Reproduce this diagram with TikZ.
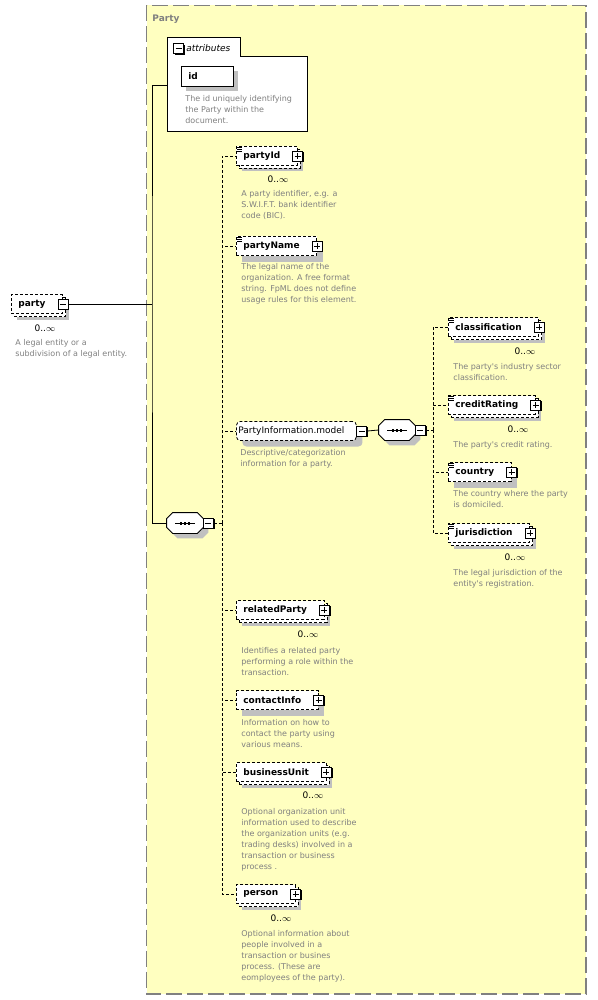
\documentclass[tikz,border=0pt]{standalone}
\usepackage{fontspec}
\setmainfont{DejaVu Sans}
\usetikzlibrary{shadows}
\definecolor{partybg}{RGB}{255,255,192}
\definecolor{shadowgray}{RGB}{192,192,192}
\definecolor{doctext}{RGB}{128,128,128}
\tikzstyle{elem}=[rectangle, draw, dash pattern=on 3pt off 2pt, fill=white, font=\bfseries\fontsize{9}{11}\selectfont, minimum height=19pt, inner xsep=7pt, inner ysep=0pt, anchor=west, execute at end node={\hspace{10pt}}, drop shadow={shadow xshift=6pt, shadow yshift=-6pt, fill=shadowgray, draw=none, opacity=1}]
\tikzstyle{multi}=[copy shadow={shadow xshift=3pt, shadow yshift=-3pt}]
\tikzstyle{simp}=[path picture={\foreach \k in {1,3,5} \draw[solid, line width=0.6pt] ([xshift=1pt, yshift=-\k pt]path picture bounding box.north west) -- ++(5pt,0);}]
\tikzstyle{grp}=[elem, rounded corners=4pt, font=\fontsize{9}{11}\selectfont, inner xsep=2pt, execute at end node={}]
\tikzstyle{icon}=[rectangle, draw, solid, fill=white, minimum size=10pt, inner sep=0pt, line width=0.8pt, drop shadow={shadow xshift=1.2pt, shadow yshift=-1.2pt, fill=black, opacity=1}]
\tikzstyle{minus}=[icon, path picture={\draw[line width=0.8pt] ([xshift=2pt]path picture bounding box.west) -- ([xshift=-2pt]path picture bounding box.east);}]
\tikzstyle{plus}=[icon, path picture={\draw[line width=0.8pt] ([xshift=2pt]path picture bounding box.west) -- ([xshift=-2pt]path picture bounding box.east); \draw[line width=0.8pt] ([yshift=-2pt]path picture bounding box.north) -- ([yshift=2pt]path picture bounding box.south);}]
\tikzstyle{seq}=[rectangle, minimum width=36pt, minimum height=20pt, inner sep=0pt]
\tikzstyle{seqline}=[draw, solid, fill=white, drop shadow={shadow xshift=5pt, shadow yshift=-5pt, fill=shadowgray, draw=none, opacity=1}]
\tikzstyle{idbox}=[rectangle, draw, solid, fill=white, anchor=west, font=\bfseries\fontsize{9}{11}\selectfont, minimum height=20pt, text width=38pt, inner xsep=7pt, inner ysep=0pt, drop shadow={shadow xshift=5pt, shadow yshift=-5pt, fill=shadowgray, draw=none, opacity=1}]
\tikzstyle{doc}=[anchor=north west, align=left, inner sep=0pt, text=doctext, font=\fontsize{8}{11}\selectfont]
\tikzstyle{mult}=[inner sep=0pt, font=\fontsize{9}{11}\selectfont]
\tikzstyle{conn}=[dash pattern=on 3pt off 2pt]

\begin{document}
\begin{tikzpicture}[x=1pt, y=-1pt, thick]
\useasboundingbox (0,0) rectangle (597,1000);

% complex type box
\draw[fill=partybg, draw=gray, dash pattern=on 16pt off 5pt, line width=1.2pt] (146.5,5.5) rectangle (586,994);
\node[anchor=west, inner sep=0pt, text=doctext, font=\bfseries\fontsize{9}{11}\selectfont] (ptitle) at (152,19) {Party};

% attributes
\draw[solid, fill=white, line width=1pt] (167,132) -- (167,38) -- (240,38) -- (240,57) -- (307,57) -- (307,132) -- cycle;
\node[minus] (attrm) at (178.5,48.5) {};
\node[anchor=west, inner sep=0pt, font=\itshape\fontsize{9}{11}\selectfont] (attrlbl) at (186,48) {attributes};
\node[idbox] (idn) at (181,76) {id};
\node[doc] (iddoc) at (185,93.5) {\strut The id uniquely identifying\\the Party within the\\document.};

% root element
\node[elem, multi] (pty) at (11,304) {party};
\node[minus] (ptym) at (pty.east) {};
\node[mult] (ptymult) at (45,328) {0..\(\infty\)};
\node[doc] (ptydoc) at (15,337.5) {\strut A legal entity or a\\subdivision of a legal entity.};

\coordinate (trunk) at (152,304);
\coordinate (attrin) at (167,85);

% sequences
\node[seq] (seq1) at (185,523) {};
\node[seq] (seq2) at (397,430) {};
\foreach \s in {seq1,seq2} {
  \draw[seqline] ([xshift=6pt]\s.north west) -- ([xshift=-6pt]\s.north east) -- ([yshift=-6pt]\s.north east)
    -- ([yshift=6pt]\s.south east) -- ([xshift=-6pt]\s.south east) -- ([xshift=6pt]\s.south west)
    -- ([yshift=6pt]\s.south west) -- ([yshift=-6pt]\s.north west) -- cycle;
  \draw[solid, line width=1pt] ([xshift=-10pt]\s.center) -- ([xshift=10pt]\s.center);
  \foreach \d in {-4,0,4}
    \fill ([shift={(\d pt-1.2pt,-1.5pt)}]\s.center) rectangle ++(2.4pt,3pt);
}
\node[minus] (s1m) at ([xshift=5pt]seq1.east) {};
\node[minus] (s2m) at ([xshift=5pt]seq2.east) {};

\draw (ptym.east) -- (trunk);
\draw (attrin) -| (trunk) |- (seq1.west);

% children
\node[elem, multi, simp] (pid) at (236,156) {partyId};
\node[plus] (pidp) at (pid.east) {};
\node[mult] (pidmult) at (278,179) {0..\(\infty\)};
\node[doc] (piddoc) at (241,188.5) {\strut A party identifier, e.g. a\\S.W.I.F.T. bank identifier\\code (BIC).};

\node[elem, simp] (pnm) at (236,246) {partyName};
\node[plus] (pnmp) at (pnm.east) {};
\node[doc] (pnmdoc) at (241,261.5) {\strut The legal name of the\\organization. A free format\\string. FpML does not define\\usage rules for this element.};

\node[grp] (pim) at (236,431) {PartyInformation.model};
\node[minus] (pimm) at ([xshift=5pt]pim.east) {};
\node[doc] (pimdoc) at (240,447.5) {\strut Descriptive/categorization\\information for a party.};
\draw (pimm.east) -- (seq2.west);

\node[elem, multi, simp] (cls) at (448,327) {classification};
\node[plus] (clsp) at (cls.east) {};
\node[mult] (clsmult) at (525,351) {0..\(\infty\)};
\node[doc] (clsdoc) at (453,361.5) {\strut The party\textquotesingle s industry sector\\classification.};

\node[elem, multi, simp] (cr) at (448,405) {creditRating};
\node[plus] (crp) at (cr.east) {};
\node[mult] (crmult) at (518,429) {0..\(\infty\)};
\node[doc] (crdoc) at (453,439.5) {\strut The party\textquotesingle s credit rating.};

\node[elem, simp] (cty) at (448,472) {country};
\node[plus] (ctyp) at (cty.east) {};
\node[doc] (ctydoc) at (453,488.5) {\strut The country where the party\\is domiciled.};

\node[elem, multi, simp] (jur) at (448,533) {jurisdiction};
\node[plus] (jurp) at (jur.east) {};
\node[mult] (jurmult) at (515,557) {0..\(\infty\)};
\node[doc] (jurdoc) at (453,567.5) {\strut The legal jurisdiction of the\\entity\textquotesingle s registration.};

\node[elem, multi] (rp) at (236,610) {relatedParty};
\node[plus] (rpp) at (rp.east) {};
\node[mult] (rpmult) at (308,634) {0..\(\infty\)};
\node[doc] (rpdoc) at (241,645.5) {\strut Identifies a related party\\performing a role within the\\transaction.};

\node[elem] (ci) at (236,700) {contactInfo};
\node[plus] (cip) at (ci.east) {};
\node[doc] (cidoc) at (241,717.5) {\strut Information on how to\\contact the party using\\various means.};

\node[elem, multi] (bu) at (236,772) {businessUnit};
\node[plus] (bup) at (bu.east) {};
\node[mult] (bumult) at (313,795) {0..\(\infty\)};
\node[doc] (budoc) at (241,806.5) {\strut Optional organization unit\\information used to describe\\the organization units (e.g.\\trading desks) involved in a\\transaction or business\\process .};

\node[elem, multi] (per) at (236,894) {person};
\node[plus] (perp) at (per.east) {};
\node[mult] (permult) at (281,918) {0..\(\infty\)};
\node[doc] (perdoc) at (241,928.5) {\strut Optional information about\\people involved in a\\transaction or busines\\process. (These are\\eomployees of the party).};

% connectors
\coordinate (bus1) at (222,523);
\coordinate (bus2) at (433,430);
\draw[conn] (s1m.east) -- (bus1);
\foreach \n in {pid,pnm,pim,rp,ci,bu,per}
  \draw[conn] (bus1) |- (\n.west);
\draw[conn] (s2m.east) -- (bus2);
\foreach \n in {cls,cr,cty,jur}
  \draw[conn] (bus2) |- (\n.west);

\end{tikzpicture}
\end{document}
